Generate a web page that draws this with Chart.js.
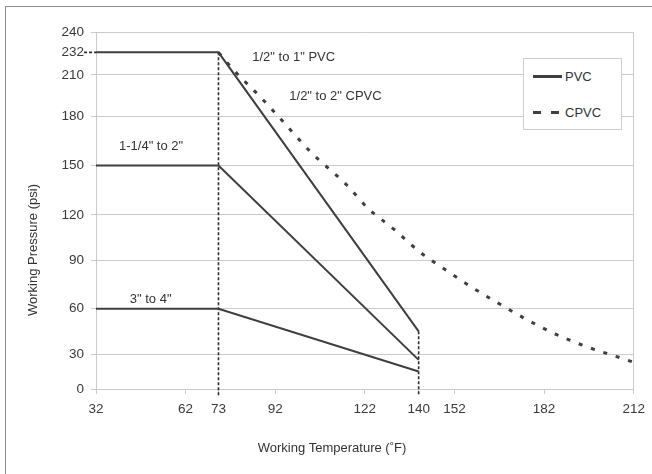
<!DOCTYPE html>
<html>
<head>
<meta charset="utf-8">
<script src="https://cdn.jsdelivr.net/npm/chart.js@4/dist/chart.umd.min.js"></script>
<style>
  html, body { margin: 0; padding: 0; background: #fff; overflow: hidden; }
  #wrap { position: relative; width: 652px; height: 474px; overflow: hidden; }
  #frame { position: absolute; left: 5px; top: 6px; width: 700px; height: 600px; border: 1.5px solid #8c8c8c; }
  #chart { position: absolute; left: 0; top: 0; }
  #legend {
    position: absolute; left: 523px; top: 58px; width: 97px; height: 70px;
    border: 1.5px solid #cfcfcf; background: #fff;
    font: 13px "Liberation Sans", Arial, sans-serif; color: #333;
  }
  .row { position: absolute; left: 9px; height: 16px; display: flex; align-items: center; }
  .sample { width: 29px; height: 0; margin-right: 3px; }
</style>
</head>
<body>
<div id="wrap">
  <div id="frame"></div>
  <canvas id="chart" width="652" height="474"></canvas>
  <div id="legend"></div>
</div>
<script>
// 축 눈금
const xTicks = [32, 62, 73, 92, 122, 140, 152, 182, 212];
const yTicks = [0, 30, 60, 90, 120, 150, 180, 210, 232, 240];

// PVC (실선) - 온도별 사용 압력
const pvcTemps = [32, 73, 140];
const pvcSmall = [232, 232, 45];   // 1/2" to 1"
const pvcMid = [150, 150, 25];     // 1-1/4" to 2"
const pvcLarge = [60, 60, 15];     // 3" to 4"

// CPVC (점선)
const cpvcTemps = [73, 78, 87, 93, 104, 116, 123, 132, 140, 149, 158, 167, 176, 186, 196, 206, 212];
const cpvcPressure = [232, 215, 194, 180, 158, 138, 124, 110, 96, 84, 73, 63, 53, 43, 35, 28, 23];

// 기준선 (73°F, 140°F)
const guideTemps = [73, 140];
const guideTops = [232, 45];

const seriesNames = ['PVC', 'CPVC'];
const noteTexts = ['1/2" to 1" PVC', '1/2" to 2" CPVC', '1-1/4" to 2"', '3" to 4"'];
const noteTemps = [84.3, 96.7, 39.7, 43.3];
const notePressures = [227, 194.5, 161.6, 66];

// 원본 그림의 세로축 간격이 고르지 않아서 구간별로 맞춤 (아래에서부터의 비율)
const yStopFractions = [0, 0.098, 0.225, 0.361, 0.488, 0.626, 0.764, 0.880, 0.943, 1];

class PiecewiseScale extends Chart.LinearScale {
    static id = 'piecewise';
    static defaults = {};
    getPixelForValue(value) {
        const v = yTicks, f = yStopFractions;
        let i = 1;
        while (i < v.length - 1 && value > v[i]) i++;
        const frac = f[i - 1] + (value - v[i - 1]) / (v[i] - v[i - 1]) * (f[i] - f[i - 1]);
        return this.bottom - frac * (this.bottom - this.top);
    }
    getValueForPixel(pixel) {
        const frac = (this.bottom - pixel) / (this.bottom - this.top);
        const v = yTicks, f = yStopFractions;
        let i = 1;
        while (i < f.length - 1 && frac > f[i]) i++;
        return v[i - 1] + (frac - f[i - 1]) / (f[i] - f[i - 1]) * (v[i] - v[i - 1]);
    }
}
Chart.register(PiecewiseScale);

const LINE = '#3f3f3f';
const GRID = '#cbcbcb';
const FONT = '"Liberation Sans", Arial, sans-serif';

function pts(xs, ys) {
    return xs.map((x, i) => ({ x: x, y: ys[i] }));
}

const datasets = [
    { label: 'PVC', data: pts(pvcTemps, pvcSmall) },
    { label: 'PVC', data: pts(pvcTemps, pvcMid) },
    { label: 'PVC', data: pts(pvcTemps, pvcLarge) }
].map(d => Object.assign(d, { borderColor: LINE, borderWidth: 2, pointRadius: 0, tension: 0 }));

datasets.push({
    label: 'CPVC',
    data: pts(cpvcTemps, cpvcPressure),
    borderColor: LINE,
    borderWidth: 3,
    borderDash: [4, 9],
    pointRadius: 0,
    cubicInterpolationMode: 'monotone'
});

guideTemps.forEach((t, i) => {
    datasets.push({
        label: 'guide',
        data: [{ x: t, y: guideTops[i] }, { x: t, y: -6 }],
        borderColor: '#2e2e2e',
        borderWidth: 1.6,
        borderDash: [3, 2],
        pointRadius: 0,
        clip: false
    });
});
// 232 눈금 옆 짧은 점선
datasets.push({
    label: 'guide',
    data: [{ x: 28, y: 232 }, { x: 32, y: 232 }],
    borderColor: '#2e2e2e',
    borderWidth: 1.6,
    borderDash: [3, 2],
    pointRadius: 0,
    clip: false
});

const notesPlugin = {
    id: 'notes',
    afterDraw(chart) {
        const { ctx, scales: { x, y } } = chart;
        ctx.save();
        ctx.font = '13px ' + FONT;
        ctx.fillStyle = '#333';
        ctx.textBaseline = 'middle';
        ctx.textAlign = 'left';
        noteTexts.forEach((t, i) => {
            ctx.fillText(t, x.getPixelForValue(noteTemps[i]), y.getPixelForValue(notePressures[i]));
        });
        // 축 제목
        ctx.textAlign = 'center';
        ctx.fillText('Working Temperature (˚F)', 332, 448);
        ctx.translate(33, 250);
        ctx.rotate(-Math.PI / 2);
        ctx.fillText('Working Pressure (psi)', 0, 0);
        ctx.restore();
    }
};

new Chart(document.getElementById('chart'), {
    type: 'line',
    data: { datasets: datasets },
    options: {
        responsive: false,
        animation: false,
        layout: { padding: { top: 32, right: 16, left: 0, bottom: 0 } },
        plugins: { legend: { display: false }, tooltip: { enabled: false } },
        scales: {
            x: {
                type: 'linear',
                min: 32,
                max: 212,
                afterBuildTicks: s => { s.ticks = xTicks.map(v => ({ value: v })); },
                afterFit: s => { s.height = 85; },
                grid: {
                    drawOnChartArea: true,
                    color: c => (c.tick && (c.tick.value === 212)) ? GRID : 'transparent',
                    tickColor: GRID,
                    tickLength: 5
                },
                border: { display: false },
                ticks: { color: '#3a3a3a', font: { size: 13.5, family: FONT }, padding: 7, maxRotation: 0, autoSkip: false }
            },
            y: {
                type: 'piecewise',
                min: 0,
                max: 240,
                afterBuildTicks: s => { s.ticks = yTicks.map(v => ({ value: v })); },
                afterFit: s => { s.width = 96; },
                grid: {
                    color: c => (c.tick && c.tick.value === 232) ? 'transparent' : GRID,
                    tickColor: c => (c.tick && c.tick.value === 232) ? 'transparent' : GRID,
                    tickLength: 5
                },
                border: { display: true, color: GRID },
                ticks: { color: '#3a3a3a', font: { size: 13.5, family: FONT }, padding: 7, autoSkip: false }
            }
        }
    },
    plugins: [notesPlugin]
});

// 범례
const legend = document.getElementById('legend');
seriesNames.forEach((name, i) => {
    const row = document.createElement('div');
    row.className = 'row';
    row.style.top = (i === 0 ? 9 : 45) + 'px';
    const s = document.createElement('div');
    s.className = 'sample';
    if (i === 0) {
        s.style.borderTop = '3px solid ' + LINE;
    } else {
        s.style.height = '3px';
        s.style.background = 'linear-gradient(to right, ' + LINE + ' 0 8px, transparent 8px 18px, ' + LINE + ' 18px 26px, transparent 26px)';
    }
    row.appendChild(s);
    const label = document.createElement('span');
    label.textContent = name;
    row.appendChild(label);
    legend.appendChild(row);
});
</script>
</body>
</html>
